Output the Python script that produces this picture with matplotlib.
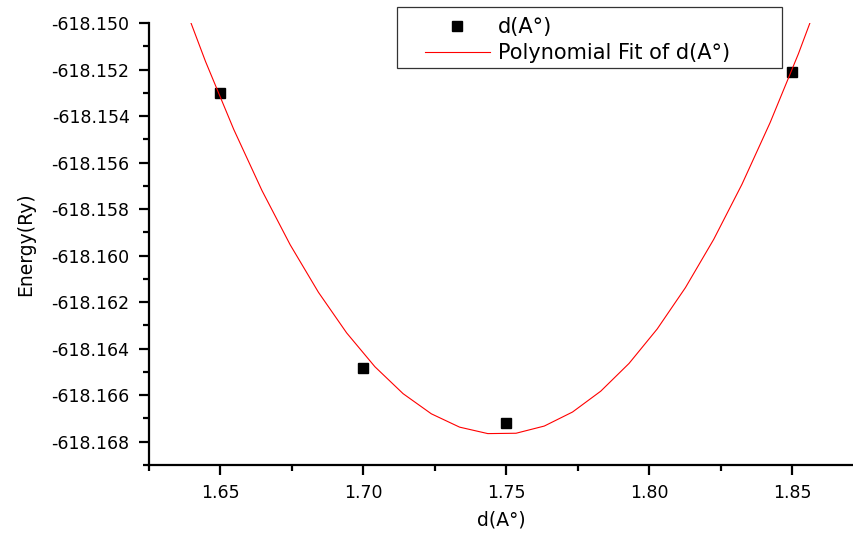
import matplotlib
matplotlib.use("Agg")
import matplotlib.pyplot as plt
import numpy as np
from matplotlib.ticker import MultipleLocator, FormatStrFormatter
from matplotlib.patches import Rectangle

plt.rcParams['font.family'] = ['DejaVu Sans']

# данные: расстояние и энергия
d = [1.65, 1.70, 1.75, 1.85]
energy = [-618.1530, -618.16485, -618.1672, -618.1521]

# квадратичная аппроксимация (Polynomial Fit)
coef = np.polyfit(d, energy, 2)
x_fit = np.linspace(1.625, 1.872, 26)
y_fit = np.polyval(coef, x_fit)

W, H = 854, 536
fig = plt.figure(figsize=(W / 100, H / 100), dpi=100)
ax = fig.add_axes([0.1745, 0.1325, 0.8255, 0.8246])

ax.plot(d, energy, 's', color='black', markersize=6.5, label='d(A°)')
ax.plot(x_fit, y_fit, '-', color='red', linewidth=0.8, label='Polynomial Fit of d(A°)')

ax.set_xlim(1.625, 1.8717)
ax.set_ylim(-618.169, -618.150)

ax.xaxis.set_major_locator(MultipleLocator(0.05))
ax.xaxis.set_minor_locator(MultipleLocator(0.025))
ax.yaxis.set_major_locator(MultipleLocator(0.002))
ax.yaxis.set_minor_locator(MultipleLocator(0.001))
ax.xaxis.set_major_formatter(FormatStrFormatter('%.2f'))
ax.yaxis.set_major_formatter(FormatStrFormatter('%.3f'))

for s in ['top', 'right']:
    ax.spines[s].set_visible(False)
for s in ['left', 'bottom']:
    ax.spines[s].set_linewidth(1.6)

ax.tick_params(which='major', direction='out', length=7, width=1.6, labelsize=12.5, pad=7)
ax.tick_params(axis='x', which='major', pad=7)
ax.tick_params(which='minor', direction='out', length=4, width=1.6)

ax.set_xlabel('d(A°)', fontsize=13.5, labelpad=6)
ax.set_ylabel('Energy(Ry)', fontsize=13.5, labelpad=12)

leg = ax.legend(loc='upper left', bbox_to_anchor=(0.488, 0.984),
                bbox_transform=fig.transFigure, fontsize=15, frameon=False,
                borderpad=0.4, handlelength=3.1, handletextpad=0.4,
                labelspacing=0.3, borderaxespad=0)

# рамка легенды, как в Origin (шире, чем содержимое)
fig.patches.append(Rectangle((397 / W, 1 - 68 / H), 385 / W, 61 / H,
                             transform=fig.transFigure, fill=False,
                             edgecolor='#333333', linewidth=0.9))

fig.savefig('out.png', dpi=100)
